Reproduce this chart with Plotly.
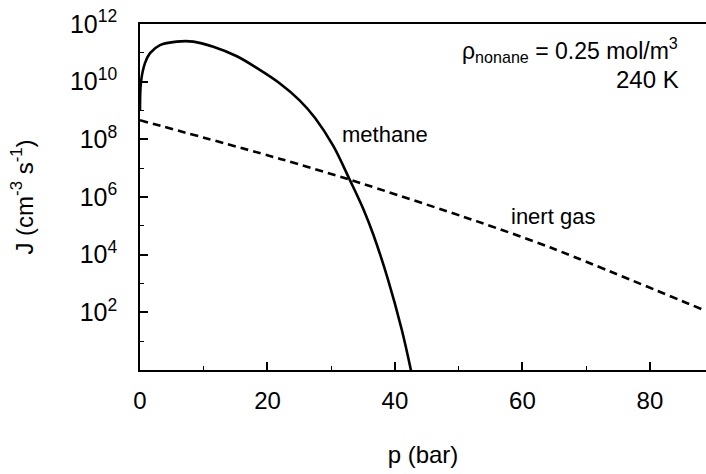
import plotly.graph_objects as go

# Methane curve (p in bar, J in cm^-3 s^-1)
methane_p = [0.0, 0.16, 0.78, 1.57, 3.14, 5.76, 8.36, 11.5, 15.2, 18.3, 22.0,
             25.0, 27.5, 30.3, 32.9, 35.0, 36.6, 38.9, 41.05, 42.5, 43.2]
methane_J = [1.0e9, 1.0e10, 4.4e10, 9.8e10, 1.86e11, 2.45e11, 2.45e11, 1.62e11,
             7.6e10, 3.0e10, 8.5e9, 2.3e9, 5.4e8, 6.0e7, 4.0e6, 4.0e5, 5.0e4,
             1.4e3, 26.0, 1.0, 0.16]

# Inert gas curve
inert_p = [0.0, 22.0, 32.9, 53.0, 64.3, 88.8]
inert_J = [4.6e8, 2.1e7, 4.0e6, 1.4e5, 1.8e4, 112.0]

x_major = [0, 20, 40, 60, 80]
x_minor = [10, 30, 50, 70]
y_major = [1e2, 1e4, 1e6, 1e8, 1e10, 1e12]
y_major_text = ["10<sup>2</sup>", "10<sup>4</sup>", "10<sup>6</sup>",
                "10<sup>8</sup>", "10<sup>10</sup>", "10<sup>12</sup>"]
y_minor = [1e1, 1e3, 1e5, 1e7, 1e9, 1e11]

FONT = "Liberation Sans, Arial, Helvetica, sans-serif"

fig = go.Figure()
fig.add_trace(go.Scatter(x=methane_p, y=methane_J, mode="lines",
                         line=dict(color="black", width=2.6, shape="spline", smoothing=1.0),
                         showlegend=False, hoverinfo="skip"))
fig.add_trace(go.Scatter(x=inert_p, y=inert_J, mode="lines",
                         line=dict(color="black", width=2.6, dash="8px,5px",
                                   shape="spline", smoothing=0.8),
                         showlegend=False, hoverinfo="skip"))

fig.update_layout(
    width=706, height=474,
    margin=dict(l=140, r=0, t=24, b=104),
    paper_bgcolor="white", plot_bgcolor="white",
    font=dict(family=FONT, size=24, color="black"),
    xaxis=dict(range=[0, 88.8], tickvals=x_major, ticktext=[str(v) for v in x_major],
               ticks="inside", ticklen=8, tickwidth=1.5, tickcolor="black",
               minor=dict(tickvals=x_minor, ticks="inside", ticklen=4, tickwidth=1.2,
                          tickcolor="black"),
               showline=True, linecolor="black", linewidth=1.5, mirror=True,
               showgrid=False, zeroline=False, ticklabelstandoff=8,
               tickfont=dict(size=24),
               title=dict(text="p (bar)", font=dict(size=24), standoff=34)),
    yaxis=dict(type="log", range=[0, 12], tickvals=y_major, ticktext=y_major_text,
               ticks="inside", ticklen=8, tickwidth=1.5, tickcolor="black",
               minor=dict(tickvals=y_minor, ticks="inside", ticklen=4, tickwidth=1.2,
                          tickcolor="black"),
               showline=True, linecolor="black", linewidth=1.5, mirror=False,
               showgrid=False, zeroline=False, ticklabelstandoff=16,
               tickfont=dict(size=25),
               title=dict(text="J (cm<sup>-3</sup> s<sup>-1</sup>)", font=dict(size=24),
                          standoff=30)),
    annotations=[
        dict(x=84.7, y=11.1, xref="x", yref="y", xanchor="right", yanchor="middle",
             text="ρ<sub>nonane</sub> = 0.25 mol/m<sup>3</sup>", showarrow=False,
             font=dict(size=23)),
        dict(x=84.9, y=10.06, xref="x", yref="y", xanchor="right", yanchor="middle",
             text="240 K", showarrow=False, font=dict(size=24)),
        dict(x=38.4, y=8.16, xref="x", yref="y", xanchor="center", yanchor="middle",
             text="methane", showarrow=False, font=dict(size=22)),
        dict(x=71.7, y=5.32, xref="x", yref="y", xanchor="right", yanchor="middle",
             text="inert gas", showarrow=False, font=dict(size=22)),
    ],
)

fig.write_html("out.html")
